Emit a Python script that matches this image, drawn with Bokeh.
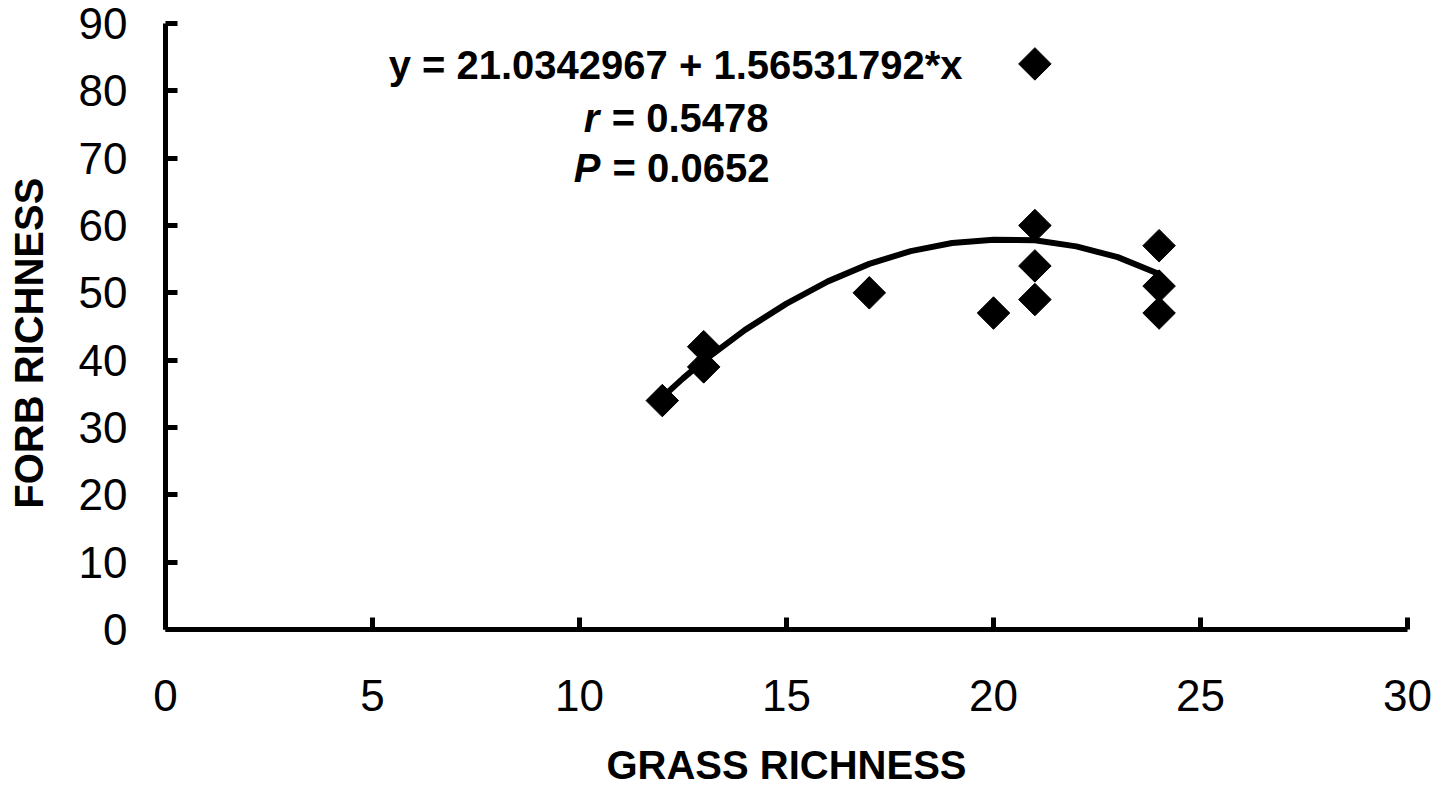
import math
from bokeh.plotting import figure
from bokeh.models import Range1d, Label, FixedTicker, ColumnDataSource
from bokeh.embed import file_html
from bokeh.resources import INLINE

# ---- data ----
grass_richness = [12, 13, 13, 17, 20, 21, 21, 21, 21, 24, 24, 24]
forb_richness = [34, 42, 39, 50, 47, 84, 60, 54, 49, 57, 51, 47]

fit_x = [12, 12.5, 13, 14, 15, 16, 17, 18, 19, 20, 21, 22, 23, 24]
fit_y = [34.5, 37.3, 39.9, 44.5, 48.4, 51.7, 54.3, 56.2, 57.4, 57.9, 57.8, 56.9, 55.3, 52.8]

x_ticks = [0, 5, 10, 15, 20, 25, 30]
y_ticks = [0, 10, 20, 30, 40, 50, 60, 70, 80, 90]

eq_text = "y = 21.0342967 + 1.56531792*x"
r_sym, r_text = "r", "= 0.5478"
p_sym, p_text = "P", "= 0.0652"

x_title = "GRASS RICHNESS"
y_title = "FORB RICHNESS"

FONT = "Liberation Sans"

p = figure(width=1432, height=790, x_range=Range1d(0, 30), y_range=Range1d(0, 90),
           output_backend="svg", toolbar_location=None,
           min_border_left=165, min_border_right=25, min_border_top=23, min_border_bottom=161)
p.title.visible = False
p.outline_line_color = None
p.xgrid.visible = False
p.ygrid.visible = False
p.background_fill_color = "white"
p.border_fill_color = "white"

p.xaxis.ticker = FixedTicker(ticks=x_ticks)
p.yaxis.ticker = FixedTicker(ticks=y_ticks)
for ax in (p.xaxis, p.yaxis):
    ax.axis_line_width = 5
    ax.axis_line_color = "black"
    ax.major_tick_line_width = 5
    ax.major_tick_line_color = "black"
    ax.major_tick_in = 12
    ax.major_tick_out = 0
    ax.minor_tick_line_color = None
    ax.major_label_text_font = FONT
    ax.major_label_text_font_size = "44px"
    ax.major_label_text_color = "black"
    ax.axis_label_text_font = FONT
    ax.axis_label_text_font_size = "40px"
    ax.axis_label_text_font_style = "bold"
    ax.axis_label_text_color = "black"

p.xaxis.axis_label = x_title
# trailing no-break spaces shift the centred title slightly downward, as in the reference
p.yaxis.axis_label = y_title + "\u00a0" * 3
p.xaxis.major_label_standoff = 50
p.yaxis.major_label_standoff = 38
p.xaxis.axis_label_standoff = 29
p.yaxis.axis_label_standoff = 25

p.line(fit_x, fit_y, line_width=6, color="black")
src = ColumnDataSource(dict(x=grass_richness, y=forb_richness))
p.scatter("x", "y", source=src, marker="square", size=23, angle=math.pi / 4,
          color="black")

def lab(x, y, text, italic=False):
    p.add_layout(Label(x=x, y=y, text=text, text_font=FONT, text_font_size="40px",
                       text_font_style="bold italic" if italic else "bold",
                       text_baseline="middle", text_align="left", text_color="black"))

lab(5.39, 83.9, eq_text)
lab(10.10, 75.9, r_sym, italic=True)
lab(10.78, 75.9, r_text)
lab(9.86, 68.5, p_sym, italic=True)
lab(10.80, 68.5, p_text)

open("out.html", "w").write(file_html(p, INLINE))
